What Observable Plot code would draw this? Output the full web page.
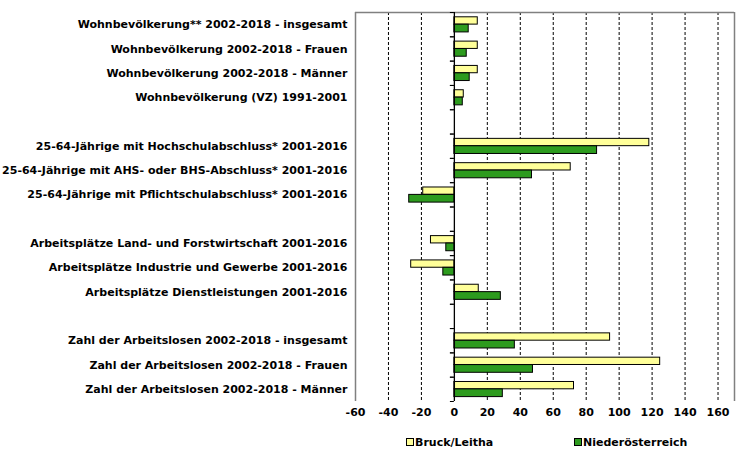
<!DOCTYPE html>
<html>
<head>
<meta charset="utf-8">
<script src="https://cdn.jsdelivr.net/npm/d3@7"></script>
<script src="https://cdn.jsdelivr.net/npm/@observablehq/plot@0.6"></script>
<style>
  html, body { margin: 0; padding: 0; background: #fff; }
  #chart { width: 755px; height: 458px; position: relative; font-family: "DejaVu Sans", Verdana, sans-serif; }
  .legend { display: flex; align-items: center; font: bold 11px "DejaVu Sans", Verdana, sans-serif; color: #000; height: 28px; padding-left: 406px; }
  .legend .item { display: flex; align-items: center; }
  .legend .sw { width: 6px; height: 6px; border: 1px solid #000; margin-right: 1px; }
</style>
</head>
<body>
<div id="chart"></div>
<script>
const categories = [
  "Wohnbevölkerung** 2002-2018 - insgesamt",
  "Wohnbevölkerung 2002-2018 - Frauen",
  "Wohnbevölkerung 2002-2018 - Männer",
  "Wohnbevölkerung (VZ) 1991-2001",
  " ",
  "25-64-Jährige mit Hochschulabschluss* 2001-2016",
  "25-64-Jährige mit AHS- oder BHS-Abschluss* 2001-2016",
  "25-64-Jährige mit Pflichtschulabschluss* 2001-2016",
  "  ",
  "Arbeitsplätze Land- und Forstwirtschaft 2001-2016",
  "Arbeitsplätze Industrie und Gewerbe 2001-2016",
  "Arbeitsplätze Dienstleistungen 2001-2016",
  "   ",
  "Zahl der Arbeitslosen 2002-2018 - insgesamt",
  "Zahl der Arbeitslosen 2002-2018 - Frauen",
  "Zahl der Arbeitslosen 2002-2018 - Männer"
];
const seriesNames = ["Bruck/Leitha", "Niederösterreich"];
const bruckValues = [14.2, 14.2, 14.2, 5.7, null, 118.3, 70.6, -18.9, null, -14.2, -26.2, 14.8, null, 94.5, 124.9, 72.6];
const noeValues   = [8.7, 7.5, 9.3, 5.1, null, 86.6, 47.1, -27.4, null, -4.9, -6.7, 28.2, null, 36.7, 47.7, 29.4];
const xTicks = [-60, -40, -20, 0, 20, 40, 60, 80, 100, 120, 140, 160];
const xDomain = [-60, 170];
const colors = ["#ffff99", "#2d9b1e"];

const bruckRows = categories.map((c, i) => ({cat: c, v: bruckValues[i]})).filter(d => d.v != null);
const noeRows = categories.map((c, i) => ({cat: c, v: noeValues[i]})).filter(d => d.v != null);

const base = {
  width: 755, height: 428,
  marginLeft: 355, marginRight: 21, marginTop: 12, marginBottom: 27,
  style: {fontFamily: "'DejaVu Sans', Verdana, sans-serif", fontSize: "11px", fontWeight: "bold", color: "#000", background: "#fff"},
  x: {domain: xDomain, axis: null},
  y: {domain: categories, padding: 0, round: false}
};

// probe pass to read the band step
const probe = Plot.plot({...base, axis: null, marks: [Plot.barX(bruckRows, {x: "v", y: "cat"})]});
const step = probe.scale("y").step;

const gridTicks = xTicks.filter(t => t !== 0 && t !== xDomain[0]);

const chart = Plot.plot({
  ...base,
  marks: [
    Plot.ruleX(gridTicks, {x: d => d, stroke: "#000", strokeWidth: 1, strokeDasharray: "3,2"}),
    Plot.ruleX(xDomain, {x: d => d, stroke: "#808080", strokeWidth: 1.5}),
    Plot.ruleY([categories[0]], {y: d => d, stroke: "#808080", strokeWidth: 1.5, dy: -step / 2}),
    Plot.barX(bruckRows, {x: "v", y: "cat", fill: colors[0], stroke: "#000", strokeWidth: 1, insetTop: 4.8, insetBottom: 12.2}),
    Plot.barX(noeRows, {x: "v", y: "cat", fill: colors[1], stroke: "#000", strokeWidth: 1, insetTop: 12.2, insetBottom: 4.4}),
    Plot.ruleY(categories, {y: d => d, x1: 0, x2: -2.4, stroke: "#000", dy: -step / 2}),
    Plot.ruleY(categories, {y: d => d, x1: 0, x2: -2.4, stroke: "#000", dy: step / 2}),
    Plot.ruleX([0], {x: d => d, stroke: "#000", strokeWidth: 1.3}),
    Plot.axisY({anchor: "left", tickSize: 0, tickPadding: 8, label: null, tickFormat: d => d.trim(), fill: "#000"}),
    Plot.text(xTicks, {x: d => d, text: d => String(d), frameAnchor: "bottom", dy: 14, fill: "#000", fontWeight: "bold", fontSize: 11})
  ]
});

const root = document.getElementById("chart");
root.appendChild(chart);

const legend = document.createElement("div");
legend.className = "legend";
seriesNames.forEach((name, i) => {
  const item = document.createElement("div");
  item.className = "item";
  item.style.width = i === 0 ? "168px" : "auto";
  const sw = document.createElement("span");
  sw.className = "sw";
  sw.style.background = colors[i];
  const t = document.createElement("span");
  t.textContent = name;
  item.appendChild(sw);
  item.appendChild(t);
  legend.appendChild(item);
});
root.appendChild(legend);
</script>
</body>
</html>
